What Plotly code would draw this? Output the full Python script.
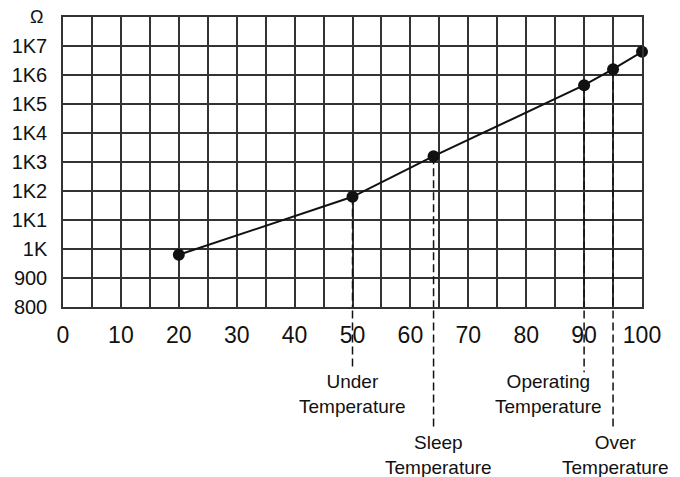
import plotly.graph_objects as go

# Data
temps = [20, 50, 64, 90, 95, 100]
resist = [980, 1180, 1320, 1565, 1620, 1680]

y_tickvals = [800, 900, 1000, 1100, 1200, 1300, 1400, 1500, 1600, 1700]
y_ticktext = ["800", "900", "1K", "1K1", "1K2", "1K3", "1K4", "1K5", "1K6", "1K7"]
x_tickvals = [0, 10, 20, 30, 40, 50, 60, 70, 80, 90, 100]
x_ticktext = [str(v) for v in x_tickvals]

marked_temps = [50, 64, 90, 95]
marked_res = [1180, 1320, 1565, 1620]
marked_labels = ["Under<br>Temperature", "Sleep<br>Temperature",
                 "Operating<br>Temperature", "Over<br>Temperature"]

FONT = "Liberation Sans, Arial, sans-serif"
INK = "#111111"
GRID = "#333333"

fig = go.Figure()
fig.add_trace(go.Scatter(
    x=temps, y=resist, mode="lines+markers",
    line=dict(color=INK, width=2),
    marker=dict(color=INK, size=12),
    showlegend=False, cliponaxis=False, hoverinfo="skip",
))

# dashed drop lines inside plot
for t, r in zip(marked_temps, marked_res):
    fig.add_shape(type="line", xref="x", yref="y", x0=t, x1=t, y0=r, y1=800,
                  line=dict(color=INK, width=1.5, dash="8px,4px"), layer="above")

# dashed extensions below the axis (paper fractions)
ext_bottom = [-0.215, -0.42, -0.225, -0.42]
for t, yb in zip(marked_temps, ext_bottom):
    fig.add_shape(type="line", xref="x", yref="paper", x0=t, x1=t, y0=-0.012, y1=yb,
                  line=dict(color=INK, width=1.5, dash="8px,4px"), layer="above")

# labels
label_pos = [(50, -0.300), (64.8, -0.510), (83.9, -0.300), (95.5, -0.510)]
for (lx, ly), txt in zip(label_pos, marked_labels):
    fig.add_annotation(x=lx, y=ly, xref="x", yref="paper", text=txt, showarrow=False,
                       xanchor="center", yanchor="middle",
                       font=dict(family=FONT, size=19, color=INK),
                       bgcolor="rgba(255,255,255,0)")

# Ohm symbol
fig.add_annotation(x=-0.045, y=1.0, xref="paper", yref="paper", text="Ω", showarrow=False,
                   xanchor="center", yanchor="middle",
                   font=dict(family=FONT, size=18, color=INK))

fig.update_xaxes(
    range=[0, 100], tickvals=x_tickvals, ticktext=x_ticktext,
    showgrid=True, gridcolor=GRID, gridwidth=1.5,
    minor=dict(dtick=5, tick0=0, showgrid=True, gridcolor=GRID, gridwidth=1.5),
    showline=True, linecolor=GRID, linewidth=1.5, mirror=True,
    ticks="", zeroline=False, ticklabelstandoff=7,
    tickfont=dict(family=FONT, size=23, color=INK),
    automargin=False,
)
fig.update_yaxes(
    range=[800, 1800], tickvals=y_tickvals, ticktext=y_ticktext,
    showgrid=True, gridcolor=GRID, gridwidth=1.5,
    showline=True, linecolor=GRID, linewidth=1.5, mirror=True,
    ticks="", zeroline=False, ticklabelstandoff=10,
    tickfont=dict(family=FONT, size=20, color=INK),
    automargin=False,
)

fig.update_layout(
    width=680, height=477,
    margin=dict(l=63, r=38, t=17, b=170),
    paper_bgcolor="white", plot_bgcolor="white",
    hovermode=False,
)

fig.write_html("out.html", config={"displayModeBar": False},
               post_script="document.body.style.margin='0';document.body.style.padding='0';")
